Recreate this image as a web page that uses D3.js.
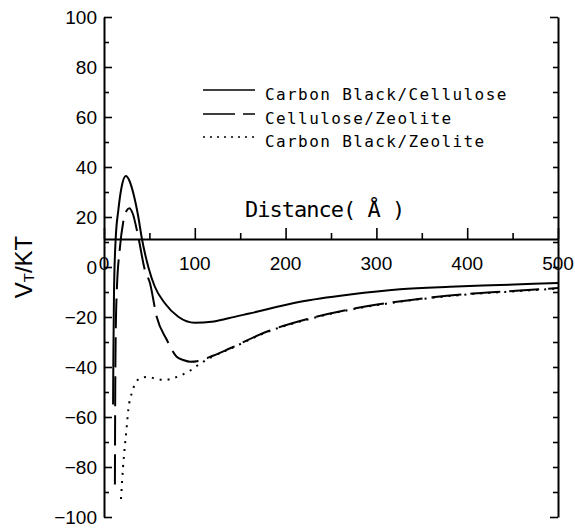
<!DOCTYPE html>
<html>
<head>
<meta charset="utf-8">
<script src="https://cdn.jsdelivr.net/npm/d3@7"></script>
<style>
  body { margin: 0; background: #fff; }
  svg { display: block; }
  .tick-label { font-family: "Liberation Sans", Arial, sans-serif; font-size: 19px; fill: #000; }
  .mono { font-family: "DejaVu Sans Mono", monospace; fill: #000; }
</style>
</head>
<body>
<svg id="chart" width="575" height="531"></svg>
<script>
// series values (distance in angstrom, V_T/KT)
const seriesNames = ['Carbon Black/Cellulose', 'Cellulose/Zeolite', 'Carbon Black/Zeolite'];

const cbCellulose = [
  [10, -55], [10.3, -37], [11, -10.5], [12.8, 10.8], [15.8, 22.8], [19.4, 32], [24, 36.4],
  [28, 34.5], [32.3, 29.5], [37.8, 20], [41.4, 12], [48.8, 0], [56, -7.9], [67, -14.5],
  [81.8, -19.9], [100, -22.3], [118.6, -21.9], [137, -20.5], [160, -18.6], [216, -13.9],
  [271, -11.0], [326, -8.9], [381, -7.9], [436, -7.2], [500, -6.4]
];

const celluloseZeolite = [
  [12, -87], [12.3, -55], [12.8, -30], [14, -10.4], [17.6, 8], [21, 17.6], [24.5, 22.3],
  [28, 23.5], [31.5, 21.5], [37.8, 12], [45, -1.2], [50.6, -6.4], [58, -19.9], [69, -29],
  [80, -35.9], [88, -37.3], [95, -37.9], [105, -37.5], [120, -35.5], [139, -32.5],
  [179, -25.9], [227, -20.5], [271, -16.9], [318, -14.1], [362, -12.1], [406, -10.6],
  [454, -9.5], [500, -8.4]
];

const cbZeolite = [
  [18.7, -92.8], [21, -80], [25, -64], [26.8, -57], [30.5, -50.5], [34, -47], [39.6, -44.5],
  [48.7, -44], [58, -44.8], [67, -45.2], [76, -44.5], [85.5, -43.2], [94.7, -41.5],
  [102, -39.6], [111, -37.5], [120, -35.8], [139, -32.7], [179, -26.1], [227, -20.7],
  [271, -17.1], [318, -14.3], [362, -12.3], [406, -10.8], [454, -9.7], [500, -8.6]
];

const xTicks = [0, 100, 200, 300, 400, 500];
const yTicks = [100, 80, 60, 40, 20, 0, -20, -40, -60, -80, -100];

const svg = d3.select('#chart');

const x = d3.scaleLinear().domain([0, 500]).range([104, 558]);
const y = d3.scaleLinear().domain([-100, 100]).range([517, 17]);
const xAxisAt = 11.2; // the distance axis crosses the V axis a little above zero

const axisColor = '#000';

// left axis with inward ticks
const leftAxis = d3.axisRight(y)
  .tickValues(d3.range(-100, 101, 10))
  .tickSize(0)
  .tickFormat('');
const gLeft = svg.append('g').attr('transform', `translate(${x(0)},0)`).call(leftAxis);
gLeft.select('.domain').attr('stroke', axisColor).attr('stroke-width', 2);
gLeft.selectAll('.tick line')
  .attr('x2', d => d % 20 === 0 ? 8 : 5)
  .attr('stroke', axisColor).attr('stroke-width', 1.6);

svg.append('g').selectAll('text')
  .data(yTicks)
  .join('text')
  .attr('class', 'tick-label')
  .attr('x', 97)
  .attr('y', d => y(d))
  .attr('dy', '0.36em')
  .attr('text-anchor', 'end')
  .text(d => d < 0 ? '\u2212' + Math.abs(d) : d);

// right axis with inward ticks
const rightAxis = d3.axisLeft(y)
  .tickValues(d3.range(-100, 101, 10))
  .tickSize(0)
  .tickFormat('');
const gRight = svg.append('g').attr('transform', `translate(${x(500)},0)`).call(rightAxis);
gRight.select('.domain').attr('stroke', axisColor).attr('stroke-width', 2);
gRight.selectAll('.tick line')
  .attr('x2', d => (d === 100 || d === -100) ? -8 : -5)
  .attr('stroke', axisColor).attr('stroke-width', 1.6);

// distance axis with upward ticks
const bottomAxis = d3.axisTop(x)
  .tickValues(d3.range(0, 501, 50))
  .tickSize(0)
  .tickFormat('');
const gBottom = svg.append('g').attr('transform', `translate(0,${y(xAxisAt)})`).call(bottomAxis);
gBottom.select('.domain').attr('stroke', axisColor).attr('stroke-width', 2);
gBottom.selectAll('.tick line')
  .attr('y2', d => d % 100 === 0 ? -11 : -6)
  .attr('stroke', axisColor).attr('stroke-width', 1.6);

svg.append('g').selectAll('text')
  .data(xTicks)
  .join('text')
  .attr('class', 'tick-label')
  .attr('x', d => x(d))
  .attr('y', 270)
  .attr('text-anchor', 'middle')
  .text(d => d);

// axis titles
svg.append('text')
  .attr('class', 'mono')
  .attr('x', 245)
  .attr('y', 217)
  .attr('font-size', 22)
  .attr('letter-spacing', -1)
  .text('Distance( \u00c5 )');

const yTitle = svg.append('text')
  .attr('transform', 'translate(32,267) rotate(-90)')
  .attr('text-anchor', 'middle')
  .attr('font-family', '"Liberation Sans", Arial, sans-serif')
  .attr('font-size', 24);
yTitle.append('tspan').text('V');
yTitle.append('tspan').attr('font-size', 15).attr('dy', 2).text('T');
yTitle.append('tspan').attr('dy', -2).text('/KT');

// curves
const line = d3.line()
  .x(d => x(d[0]))
  .y(d => y(d[1]))
  .curve(d3.curveMonotoneX);

const styles = [
  { data: cbCellulose, dash: null },
  { data: celluloseZeolite, dash: '30,9' },
  { data: cbZeolite, dash: '2,6' }
];

svg.append('g').selectAll('path')
  .data(styles)
  .join('path')
  .attr('d', d => line(d.data))
  .attr('fill', 'none')
  .attr('stroke', '#000')
  .attr('stroke-width', 2)
  .attr('stroke-dasharray', d => d.dash);

// legend
const legend = svg.append('g');
const legendRows = [90, 114, 137];
styles.forEach((s, i) => {
  legend.append('line')
    .attr('x1', 203).attr('x2', 255)
    .attr('y1', legendRows[i]).attr('y2', legendRows[i])
    .attr('stroke', '#000')
    .attr('stroke-width', 1.6)
    .attr('stroke-dasharray', s.dash ? (i === 1 ? '32,8,12' : '2,5') : null);
  legend.append('text')
    .attr('class', 'mono')
    .attr('x', 265)
    .attr('y', legendRows[i] + 10)
    .attr('font-size', 16)
    .attr('letter-spacing', 1.4)
    .text(seriesNames[i]);
});
</script>
</body>
</html>
